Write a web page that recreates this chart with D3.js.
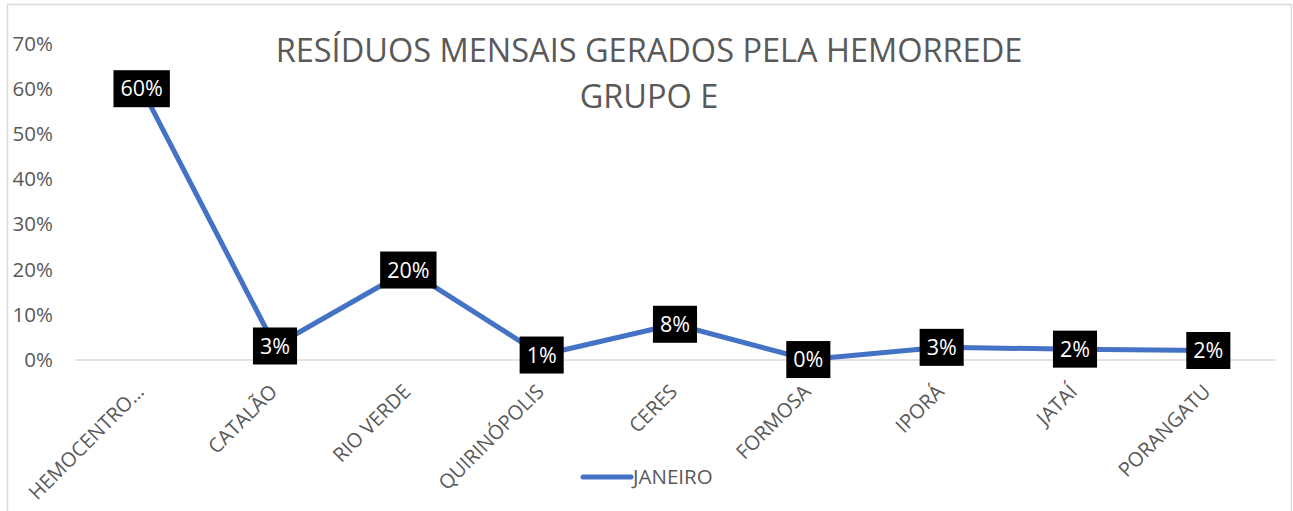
<!DOCTYPE html>
<html>
<head>
<meta charset="utf-8">
<script src="https://cdn.jsdelivr.net/npm/d3@7"></script>
<style>
  html, body { margin: 0; padding: 0; background: #fff; }
  svg { display: block; }
  text { font-family: "Open Sans", "Noto Sans", sans-serif; }
</style>
</head>
<body>
<svg id="chart" width="1293" height="511"></svg>
<script>
// Unidades da Hemorrede (grupo E)
const categories = ["HEMOCENTRO…", "CATALÃO", "RIO VERDE", "QUIRINÓPOLIS", "CERES", "FORMOSA", "IPORÁ", "JATAÍ", "PORANGATU"];
// Participação de cada unidade nos resíduos de janeiro
const janeiro = [0.600, 0.031, 0.199, 0.011, 0.079, 0.001, 0.028, 0.024, 0.021];
const yTicks = [0, 0.1, 0.2, 0.3, 0.4, 0.5, 0.6, 0.7];
const titleLines = ["RESÍDUOS MENSAIS GERADOS PELA HEMORREDE", "GRUPO E"];
const seriesName = "JANEIRO";

const svg = d3.select("#chart");
const plot = { left: 75, right: 1275, top: 43.5, bottom: 360 };
const grey = "#595959";
const lineColor = "#4472C4";
const font = '"Open Sans", "Noto Sans", sans-serif';

// chart area border
svg.append("rect")
  .attr("x", 7.5).attr("y", 4.5)
  .attr("width", 1284).attr("height", 540)
  .attr("fill", "none").attr("stroke", "#d9d9d9").attr("stroke-width", 1.5);

const x = d3.scalePoint().domain(categories).range([plot.left, plot.right]).padding(0.5);
const y = d3.scaleLinear().domain([0, 0.7]).range([plot.bottom, plot.top]);
const pct = d3.format(".0%");

// title
svg.append("g").selectAll("text").data(titleLines).join("text")
  .attr("x", 649).attr("y", (d, i) => 62 + i * 46)
  .attr("text-anchor", "middle")
  .attr("fill", grey).attr("font-size", 32.5)
  .text(d => d);

// y axis labels (no axis line, no ticks)
const yAxis = svg.append("g")
  .attr("transform", `translate(53,0)`)
  .call(d3.axisLeft(y).tickValues(yTicks).tickFormat(pct).tickSize(0).tickPadding(0));
yAxis.select(".domain").remove();
yAxis.selectAll("text")
  .attr("fill", grey).attr("font-size", 20.5)
  .attr("font-family", font);

// x axis baseline and rotated category labels
const xAxis = svg.append("g")
  .attr("transform", `translate(0,${plot.bottom})`)
  .call(d3.axisBottom(x).tickSize(0).tickPadding(0));
xAxis.select(".domain")
  .attr("d", `M${plot.left},0H${plot.right}`)
  .attr("stroke", "#d9d9d9").attr("stroke-width", 1.5);
xAxis.selectAll(".tick text")
  .attr("fill", grey).attr("font-size", 20)
  .attr("font-family", font)
  .attr("text-anchor", "end")
  .attr("dy", null).attr("y", 0)
  .attr("transform", "translate(3,33) rotate(-45)");

// series line
const line = d3.line()
  .x((d, i) => x(categories[i]))
  .y(d => y(d));
svg.append("path")
  .datum(janeiro)
  .attr("d", line)
  .attr("fill", "none")
  .attr("stroke", lineColor)
  .attr("stroke-width", 5)
  .attr("stroke-linejoin", "round")
  .attr("stroke-linecap", "round");

// data labels: white text on black boxes centred on each point
const labels = svg.append("g").selectAll("g").data(janeiro).join("g")
  .attr("transform", (d, i) => `translate(${x(categories[i])},${y(d)})`);
labels.append("text")
  .attr("text-anchor", "middle")
  .attr("dy", "0.36em")
  .attr("fill", "#fff")
  .attr("font-size", 21.5)
  .text(d => pct(d));
labels.each(function() {
  const g = d3.select(this);
  const w = g.select("text").node().getComputedTextLength();
  g.insert("rect", "text")
    .attr("x", -(w / 2 + 7)).attr("y", -18.5)
    .attr("width", w + 14).attr("height", 37)
    .attr("fill", "#000");
});

// legend
const legend = svg.append("g").attr("transform", "translate(583,477)");
legend.append("line")
  .attr("x1", 0).attr("x2", 48).attr("y1", 0).attr("y2", 0)
  .attr("stroke", lineColor).attr("stroke-width", 5).attr("stroke-linecap", "round");
legend.append("text")
  .attr("x", 50).attr("dy", "0.36em")
  .attr("fill", grey).attr("font-size", 20.5)
  .text(seriesName);
</script>
</body>
</html>
